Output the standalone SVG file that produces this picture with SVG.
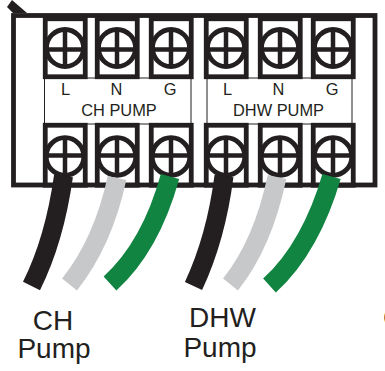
<svg xmlns="http://www.w3.org/2000/svg" width="385" height="371" viewBox="0 0 385 371">
<style>
.f{fill:none;stroke:#231f20}
.t{font-family:"Liberation Sans",Arial,sans-serif;fill:#231f20}
.s{font-size:16.4px}
.b{font-size:28px}
.m{text-anchor:middle}
.w{fill:none;stroke-width:19}
</style>
<defs>
<clipPath id="cu"><rect x="47" y="21" width="36.500" height="53"/></clipPath>
<clipPath id="cl"><rect x="47" y="128" width="36.500" height="54"/></clipPath>
<g id="up">
<rect class="f" x="45.250" y="18.750" width="40" height="58" stroke-width="4.800" fill="#fff"/>
<g clip-path="url(#cu)">
<circle class="f" cx="65" cy="48" r="18.500" stroke-width="4.800"/>
<path class="f" stroke-width="4.500" d="M65 28V68M46 49.500H84"/>
</g>
</g>
<g id="lo">
<rect class="f" x="45.250" y="125.250" width="40" height="60" stroke-width="4.800" fill="#fff"/>
<g clip-path="url(#cl)">
<circle class="f" cx="65" cy="156.500" r="18.800" stroke-width="4.800"/>
<path class="f" stroke-width="4.500" d="M65 136V176M46 155.500H84"/>
</g>
</g>
</defs>
<rect width="385" height="371" fill="#fff"/>
<g id="frame">
<polygon points="12,0 27,13 13,13 7,7" fill="#231f20"/>
<rect class="f" x="13.500" y="15.500" width="361.500" height="169.500" stroke-width="4.800"/>
</g>
<g id="panel-ch"><rect x="44.500" y="78" width="146.500" height="46" fill="#fff" stroke="#231f20" stroke-width="1"/></g>
<g id="panel-dhw"><rect x="207" y="78" width="145" height="46" fill="#fff" stroke="#231f20" stroke-width="1"/></g>
<g id="terminal-ch-l"><use href="#up"/><use href="#lo"/></g>
<g id="terminal-ch-n"><use href="#up" x="52"/><use href="#lo" x="52"/></g>
<g id="terminal-ch-g"><use href="#up" x="106"/><use href="#lo" x="106"/></g>
<g id="terminal-dhw-l"><use href="#up" x="161"/><use href="#lo" x="161"/></g>
<g id="terminal-dhw-n"><use href="#up" x="215"/><use href="#lo" x="215"/></g>
<g id="terminal-dhw-g"><use href="#up" x="268"/><use href="#lo" x="268"/></g>
<g id="connectors">
<path class="w" stroke="#231f20" d="M63.500 176C58 215 47 255 31.500 286"/>
<path class="w" stroke="#c7c8ca" d="M117 178C108 220 93 255 69.500 284.500"/>
<path class="w" stroke="#108440" d="M170 176.500C158 220 138 258 110 283.500"/>
<path class="w" stroke="#231f20" d="M224 176C219 215 208 255 193.500 286"/>
<path class="w" stroke="#c7c8ca" d="M277 177C268 220 254 255 230.500 284.500"/>
<path class="w" stroke="#108440" d="M331.500 176.500C319 220 298 260 269.500 285.500"/>
</g>
<g id="labels">
<text class="t s m" x="65.500" y="95">L</text>
<text class="t s m" x="116.500" y="95">N</text>
<text class="t s m" x="170" y="95">G</text>
<text class="t s m" x="119" y="116">CH PUMP</text>
<text class="t s m" x="227.500" y="95">L</text>
<text class="t s m" x="278.500" y="95">N</text>
<text class="t s m" x="332" y="95">G</text>
<text class="t s m" x="278.500" y="116">DHW PUMP</text>
<text class="t b m" x="53" y="330">CH</text>
<text class="t b m" x="54" y="358">Pump</text>
<text class="t b m" x="222.500" y="327">DHW</text>
<text class="t b m" x="220" y="357">Pump</text>
<text class="t b" x="383" y="327">C</text>
</g>
</svg>
